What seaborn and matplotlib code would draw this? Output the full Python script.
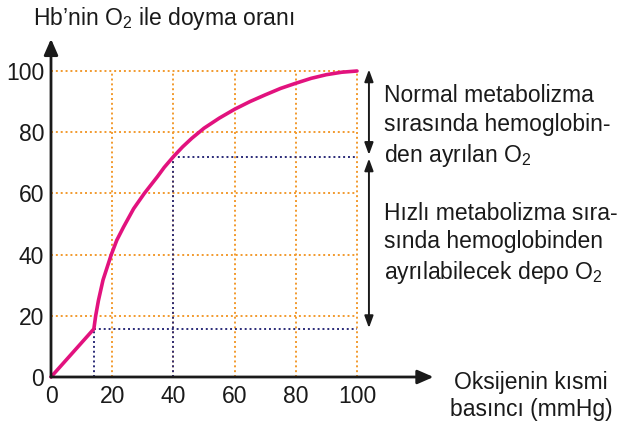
import numpy as np
import pandas as pd
import seaborn as sns
from matplotlib import pyplot as plt

# O2 partial pressure (mmHg) vs Hb saturation (%)
pressure = [0, 14, 14.6, 15.5, 17, 19.7, 21.5, 23.7, 27, 30.5, 34.8, 37, 40, 43, 46, 50, 55,
            60, 65, 70, 75, 80, 85, 90, 95, 100]
saturation = [0, 15.7, 20, 25, 31.7, 40, 44.7, 49, 55, 60, 65.5, 68.5, 72, 75.2, 78, 81.3, 84.6,
              87.5, 90, 92.2, 94.3, 96, 97.6, 98.8, 99.6, 100]
ticks = [0, 20, 40, 60, 80, 100]
rest_point = (40, 72)
low_point = (14, 15.7)

sns.set_theme(style='white')
plt.rcParams['font.family'] = ['Liberation Sans', 'DejaVu Sans']
plt.rcParams['mathtext.fontset'] = 'custom'
plt.rcParams['mathtext.rm'] = 'Liberation Sans'
plt.rcParams['mathtext.it'] = 'Liberation Sans:italic'

ORANGE = '#f29a2e'
NAVY = '#2b2b78'
MAGENTA = '#e2127e'
INK = '#1a1a1a'
FS = 16.5

fig = plt.figure(figsize=(6.31, 4.25), dpi=100)
ax = fig.add_axes([51 / 631, 48 / 425, 306 / 631, 306 / 425])

# orange dotted grid, only inside 0..100
for t in ticks[1:]:
    ax.plot([t, t], [0, 100], color=ORANGE, ls=(0, (1, 1.5)), lw=1.4, zorder=1, clip_on=False)
    ax.plot([0, 100], [t, t], color=ORANGE, ls=(0, (1, 1.5)), lw=1.4, zorder=1, clip_on=False)

# navy dotted guides
for px, py in [low_point, rest_point]:
    ax.plot([px, px], [0, py], color=NAVY, ls=(0, (1, 1.5)), lw=1.4, zorder=2)
    ax.plot([px, 100], [py, py], color=NAVY, ls=(0, (1, 1.5)), lw=1.4, zorder=2, clip_on=False)

df = pd.DataFrame({'pressure': pressure, 'saturation': saturation})
sns.lineplot(data=df, x='pressure', y='saturation', color=MAGENTA, lw=2.6, ax=ax, zorder=3)
ax.lines[-1].set_clip_on(False)
ax.lines[-1].set_solid_joinstyle('round')

ax.set_xlim(0, 100)
ax.set_ylim(0, 100)
for s in ax.spines.values():
    s.set_visible(False)
ax.set_xticks(ticks)
ax.set_yticks(ticks)
ax.tick_params(length=0, labelsize=FS, colors=INK)
ax.tick_params(axis='x', pad=6)
ax.tick_params(axis='y', pad=5)
ax.set_xlabel('')
ax.set_ylabel('')

# axes with arrows
arrow = dict(arrowstyle='-|>,head_length=0.8,head_width=0.35', color=INK, lw=2,
             shrinkA=0, shrinkB=0)
ax.annotate('', xy=(0, 110.5), xytext=(0, 0), arrowprops=arrow, annotation_clip=False)
ax.annotate('', xy=(125, 0), xytext=(0, 0), arrowprops=arrow, annotation_clip=False)

ax.text(-5.8, 115.0, 'Hb\u2019nin O$_2$ ile doyma oranı', fontsize=FS, ha='left', va='baseline',
        color=INK)
ax.text(156.9, -3.9, 'Oksijenin kısmi', fontsize=FS, ha='center', va='baseline', color=INK)
ax.text(156.9, -12.7, 'basıncı (mmHg)', fontsize=FS, ha='center', va='baseline', color=INK)

# double arrows on the right
darrow = dict(arrowstyle='<|-|>,head_length=0.6,head_width=0.22', color=INK, lw=1.4,
              shrinkA=0, shrinkB=0)
ax.annotate('', xy=(103.9, 100.5), xytext=(103.9, 72.6), arrowprops=darrow, annotation_clip=False)
ax.annotate('', xy=(103.9, 71.4), xytext=(103.9, 16), arrowprops=darrow, annotation_clip=False)

ax.text(108.8, 95.6, 'Normal metabolizma\nsırasında hemoglobin-\nden ayrılan O$_2$', fontsize=FS,
        ha='left', va='top', linespacing=1.31, color=INK)
ax.text(108.8, 57.3, 'Hızlı metabolizma sıra-\nsında hemoglobinden\nayrılabilecek depo O$_2$',
        fontsize=FS, ha='left', va='top', linespacing=1.29, color=INK)

fig.savefig('out.png', dpi=100)
